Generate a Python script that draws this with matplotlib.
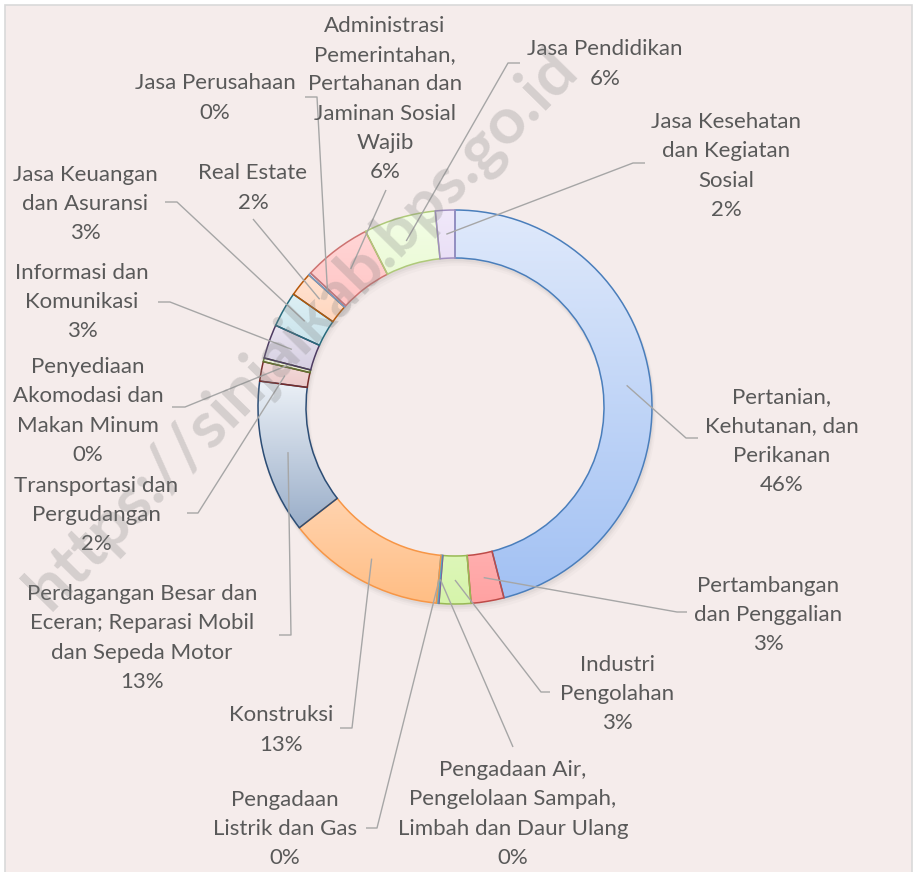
import numpy as np
import matplotlib
matplotlib.use('Agg')
import matplotlib.pyplot as plt
from matplotlib.patches import Rectangle, Wedge

# ── data (share of each sector, clockwise from 12 o'clock) ──
sectors = [
    'Pertanian,\nKehutanan, dan\nPerikanan',
    'Pertambangan\ndan Penggalian',
    'Industri\nPengolahan',
    'Pengadaan Air,\nPengelolaan Sampah,\nLimbah dan Daur Ulang',
    'Pengadaan\nListrik dan Gas',
    'Konstruksi',
    'Perdagangan Besar dan\nEceran; Reparasi Mobil\ndan Sepeda Motor',
    'Transportasi dan\nPergudangan',
    'Penyediaan\nAkomodasi dan\nMakan Minum',
    'Informasi dan\nKomunikasi',
    'Jasa Keuangan\ndan Asuransi',
    'Real Estate',
    'Jasa Perusahaan',
    'Administrasi\nPemerintahan,\nPertahanan dan\nJaminan Sosial\nWajib',
    'Jasa Pendidikan',
    'Jasa Kesehatan\ndan Kegiatan\nSosial',
]
shares = [46.0, 2.7, 2.6, 0.1, 0.1, 13.0, 12.6, 1.6, 0.3, 2.8, 2.9, 2.0, 0.2, 5.6, 5.9, 1.6]

# fill gradient (top, bottom) and edge colour per slice
fill_top = ['#DFE9FB', '#FFD3D3', '#F2FDE2', '#E9E1F3', '#DDF1F7', '#FFE6D3',
            '#EBF0F6', '#F4DCDC', '#EEF3E0', '#E9E4F0', '#DDEFF4', '#FFE3D2',
            '#E3ECF8', '#FFD6D6', '#F3FDE6', '#F1E9FA']
fill_bot = ['#A2C1F3', '#FFA2A2', '#D6F4AB', '#C9B8E0', '#A9DCEB', '#FFBE85',
            '#9AAEC9', '#E6BDBD', '#CBD9A8', '#C6BDD6', '#B2D7E2', '#FFBF99',
            '#B7CDEB', '#FFADAD', '#DCF6B8', '#D3C2EA']
edges = ['#4A7EBB', '#BE4B48', '#98B954', '#7D60A0', '#4BACC6', '#F79646',
         '#2C4D75', '#772C2A', '#5F7530', '#4D3B62', '#276A7C', '#B65708',
         '#729ACA', '#CD7371', '#AFC97A', '#A08FC0']

# label placement (pixel coords): text centre, leader elbow, leader end
text_xy = [(782, 441), (768, 615), (617, 694), (513, 814), (285, 829), (281, 730),
           (142, 638), (96, 515), (88, 411), (82, 302), (85, 204), (253, 188),
           (215, 98), (385, 99), (605, 64), (726, 166)]
elbow_xy = [(686, 438), (677, 612), (541, 692), (513, 747), (377, 828), (352, 728),
            (291, 635), (198, 513), (185, 407), (170, 302), (177, 202), (253, 219),
            (317, 97), (386, 190), (508, 63), (633, 163)]
end_xy = [(698, 438), (687, 612), (550, 692), (513, 747), (366, 828), (340, 728),
          (279, 635), (187, 513), (172, 407), (158, 302), (165, 202), (253, 219),
          (305, 97), (386, 190), (520, 63), (645, 163)]

W, H = 914, 872
CX, CY = 455, 407
R_OUT, RING = 197, 48
TEXT_C = '#595959'
LEADER_C = '#A6A6A6'
BG = '#F5ECEB'

plt.rcParams['font.family'] = ['Lato', 'DejaVu Sans']

fig = plt.figure(figsize=(W / 100, H / 100), dpi=100)
fig.patch.set_facecolor('white')
ax = fig.add_axes([0, 0, 1, 1])

# chart area
ax.add_patch(Rectangle((5, 5), 907, 880, facecolor=BG, edgecolor='#D9D9D9',
                       lw=1.2, zorder=0))

# soft shadow below ring
for off, a in [(6, 0.04), (4, 0.06), (2.5, 0.08)]:
    ax.add_patch(Wedge((CX + off * 0.4, CY + off), R_OUT + off * 0.3, 0, 360,
                       width=RING + off * 0.6, facecolor='#7F7F7F', alpha=a,
                       lw=0, zorder=1))

# y axis is flipped (pixel-style), so counterclock=True runs clockwise on screen
wedges, _ = ax.pie(shares, startangle=-90, counterclock=True, radius=R_OUT,
                   center=(CX, CY), frame=True,
                   wedgeprops=dict(width=RING, linewidth=1.1, facecolor='none'))

total = sum(shares)
for i, w in enumerate(wedges):
    w.set_edgecolor(edges[i])
    w.set_zorder(3)
    # gradient fill clipped to the slice
    verts = w.get_patch_transform().transform(w.get_path().vertices)
    x0, y0 = verts.min(axis=0)
    x1, y1 = verts.max(axis=0)
    c0 = np.array(matplotlib.colors.to_rgb(fill_top[i]))
    c1 = np.array(matplotlib.colors.to_rgb(fill_bot[i]))
    t = np.linspace(0, 1, 64)[:, None]
    grad = (c0 * (1 - t) + c1 * t)[:, None, :]
    im = ax.imshow(grad, extent=(x0, x1, y1, y0), origin='upper',
                   aspect='auto', interpolation='bilinear', zorder=2)
    im.set_clip_path(w)

    # leader line from the middle of the slice
    mid = np.deg2rad((w.theta1 + w.theta2) / 2)
    rm = R_OUT - RING / 2
    sx, sy = CX + rm * np.cos(mid), CY + rm * np.sin(mid)
    ax.plot([sx, elbow_xy[i][0], end_xy[i][0]], [sy, elbow_xy[i][1], end_xy[i][1]],
            color=LEADER_C, lw=1.0, zorder=4, solid_capstyle='butt')

    pct = round(shares[i] / total * 100)
    ax.text(text_xy[i][0], text_xy[i][1], f'{sectors[i]}\n{pct}%',
            ha='center', va='center', ma='center', fontsize=16,
            color=TEXT_C, linespacing=1.58, zorder=5)

# watermark
ax.text(302, 330, 'https://sinjaikab.bps.go.id', rotation=45.5,
        rotation_mode='anchor', ha='center', va='center', fontsize=47,
        fontweight='bold', color='#808080', alpha=0.27, zorder=6)

ax.set_xlim(0, W)
ax.set_ylim(H, 0)
ax.set_aspect('auto')
ax.axis('off')

fig.savefig('out.png', dpi=100, facecolor='white')
